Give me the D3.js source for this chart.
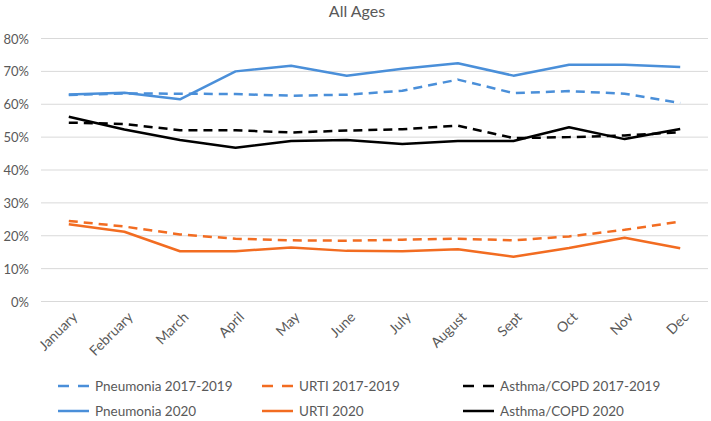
<!DOCTYPE html>
<html>
<head>
<meta charset="utf-8">
<script src="https://cdn.jsdelivr.net/npm/d3@7"></script>
<style>
  body { margin: 0; background: #fff; }
  svg text { font-family: Lato, "Open Sans", sans-serif; fill: #595959; }
</style>
</head>
<body>
<svg id="chart" width="711" height="421"></svg>
<script>
const months = ["January","February","March","April","May","June","July","August","Sept","Oct","Nov","Dec"];
const yTicks = [0, 10, 20, 30, 40, 50, 60, 70, 80];

const pneumonia1719 = [62.8, 63.3, 63.2, 63.1, 62.6, 62.9, 64.1, 67.5, 63.4, 64.0, 63.2, 60.4];
const urti1719      = [24.5, 22.8, 20.4, 19.1, 18.6, 18.5, 18.8, 19.1, 18.6, 19.8, 21.8, 24.3];
const asthma1719    = [54.4, 54.0, 52.1, 52.1, 51.4, 52.0, 52.4, 53.5, 49.7, 50.0, 50.5, 51.5];
const pneumonia2020 = [63.0, 63.5, 61.5, 70.0, 71.7, 68.7, 70.8, 72.5, 68.7, 72.0, 72.0, 71.3];
const urti2020      = [23.5, 21.2, 15.3, 15.3, 16.4, 15.4, 15.3, 15.9, 13.6, 16.3, 19.4, 16.2];
const asthma2020    = [56.2, 52.3, 49.1, 46.8, 48.8, 49.1, 47.9, 48.8, 48.8, 53.0, 49.4, 52.5];

const seriesNames = ["Pneumonia 2017-2019","URTI 2017-2019","Asthma/COPD 2017-2019",
                     "Pneumonia 2020","URTI 2020","Asthma/COPD 2020"];
const seriesValues = [pneumonia1719, urti1719, asthma1719, pneumonia2020, urti2020, asthma2020];
const BLUE = "#4a8fd9", ORANGE = "#f26c21", BLACK = "#000000";
const seriesColors = [BLUE, ORANGE, BLACK, BLUE, ORANGE, BLACK];
const seriesDashed = [true, true, true, false, false, false];

const svg = d3.select("#chart");
const margin = {left: 41, right: 3, top: 38.5, bottom: 119.5};
const W = 711, H = 421;

const x = d3.scaleBand().domain(months).range([margin.left, W - margin.right]);
const y = d3.scaleLinear().domain([0, 80]).range([H - margin.bottom, margin.top]);

// Title
svg.append("text").attr("x", 357).attr("y", 17).attr("text-anchor", "middle")
  .style("font-size", "16px").text("All Ages");

// Gridlines
svg.append("g").selectAll("line").data(yTicks).join("line")
  .attr("x1", margin.left).attr("x2", W - margin.right)
  .attr("y1", d => y(d)).attr("y2", d => y(d))
  .attr("stroke", "#d9d9d9").attr("stroke-width", 1);

// Y axis labels
const yAxis = svg.append("g").attr("transform", `translate(${margin.left - 12},0)`)
  .call(d3.axisLeft(y).tickValues(yTicks).tickFormat(d => d + "%").tickSize(0));
yAxis.select(".domain").remove();
yAxis.selectAll("text").style("font-size", "13px").attr("x", 0).attr("dy", "0.35em");

// X axis labels
const xAxis = svg.append("g").attr("transform", `translate(0,${y(0)})`)
  .call(d3.axisBottom(x).tickSize(0));
xAxis.select(".domain").remove();
xAxis.selectAll("text")
  .style("font-size", "14px")
  .attr("text-anchor", "end")
  .attr("dy", "0.35em")
  .attr("transform", "translate(6,13) rotate(-45)")
  .attr("x", 0).attr("y", 0);

// Lines
const line = d3.line().x((d, i) => x(months[i]) + x.bandwidth() / 2).y(d => y(d));
seriesValues.forEach((vals, k) => {
  svg.append("path").datum(vals)
    .attr("d", line)
    .attr("fill", "none")
    .attr("stroke", seriesColors[k])
    .attr("stroke-width", 2.5)
    .attr("stroke-linejoin", "round")
    .attr("stroke-dasharray", seriesDashed[k] ? "9,6" : null);
});

// Legend
const legendCols = [58, 262, 463];
const legendRows = [386, 411];
seriesNames.forEach((name, k) => {
  const cx = legendCols[k % 3], cy = legendRows[Math.floor(k / 3)];
  const g = svg.append("g");
  g.append("line").attr("x1", cx).attr("x2", cx + 31).attr("y1", cy).attr("y2", cy)
    .attr("stroke", seriesColors[k]).attr("stroke-width", 2.5)
    .attr("stroke-dasharray", seriesDashed[k] ? "11,9" : null);
  g.append("text").attr("x", cx + 37).attr("y", cy).attr("dy", "0.35em")
    .style("font-size", "13.5px").text(name);
});
</script>
</body>
</html>
